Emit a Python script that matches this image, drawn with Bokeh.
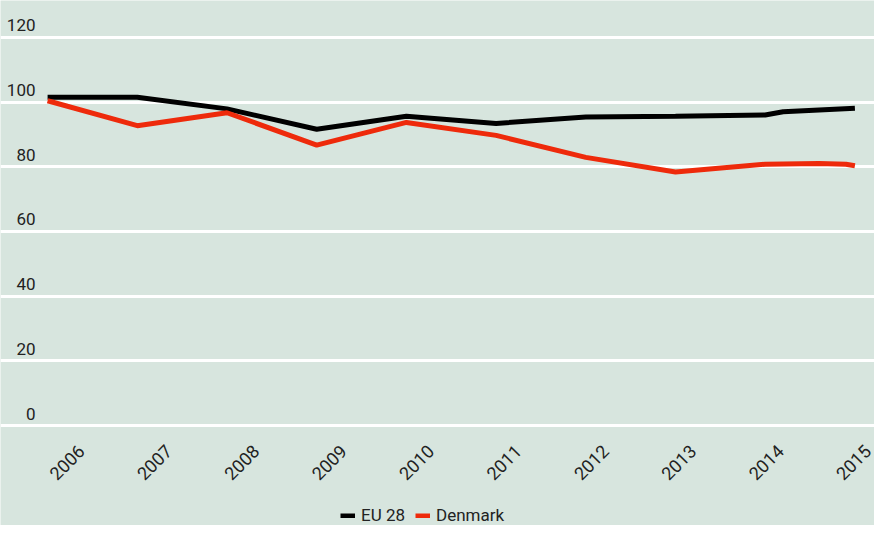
import math
from bokeh.plotting import figure
from bokeh.models import (Range1d, FixedTicker, LabelSet, ColumnDataSource,
                          Legend, LegendItem, Grid)
from bokeh.core.properties import value
from bokeh.embed import file_html
from bokeh.resources import INLINE

# ---- data ----
years = [2006, 2007, 2008, 2009, 2010, 2011, 2012, 2013, 2014, 2015]
year_labels = [str(y) for y in years]
eu_x = [2006, 2007, 2008, 2009, 2010, 2011, 2012, 2013, 2014, 2014.2, 2015]
eu28 = [101.5, 101.5, 97.9, 91.6, 95.6, 93.4, 95.4, 95.6, 96.0, 97.0, 98.1]
dk_x = [2006, 2007, 2008, 2009, 2010, 2011, 2012, 2013, 2014, 2014.6, 2014.9, 2015]
denmark = [100.4, 92.7, 96.7, 86.7, 93.7, 89.7, 82.9, 78.4, 80.8, 81.0, 80.8, 80.3]
y_ticks = [0, 20, 40, 60, 80, 100, 120]
y_tick_labels = ["0", "20", "40", "60", "80", "100", "120"]

BG = "#d7e5de"
FONT = "Roboto"
TXT = "#222222"
W, H = 874, 525

p = figure(width=W, height=H, output_backend="svg", toolbar_location=None,
           x_axis_type=None, y_axis_type=None,
           x_range=Range1d(2005.475, 2015.2185), y_range=Range1d(-30.9, 131.4),
           background_fill_color=BG, border_fill_color=BG,
           min_border_left=0, min_border_right=0, min_border_top=0, min_border_bottom=0)
p.outline_line_color = None

# horizontal gridlines
p.add_layout(Grid(dimension=1, ticker=FixedTicker(ticks=y_ticks),
                  grid_line_color="white", grid_line_width=3))

# y tick labels, inside the plot above each gridline
ysrc = ColumnDataSource(dict(y=y_ticks, t=y_tick_labels))
p.add_layout(LabelSet(x=35, y="y", text="t", source=ysrc, x_units="screen",
                      text_align="right", text_baseline="alphabetic", y_offset=6,
                      text_font=value(FONT), text_font_size="17px", text_color=TXT))

# x tick labels (rotated), on their own label scale
p.extra_x_ranges = {"lab": Range1d(2005.2386, 2015.24)}
xsrc = ColumnDataSource(dict(x=years, y=[-11.4] * len(years), t=year_labels))
p.add_layout(LabelSet(x="x", y="y", text="t", source=xsrc, x_range_name="lab",
                      angle=math.pi / 4, text_align="center", text_baseline="middle",
                      text_font=value(FONT), text_font_size="18px", text_color=TXT))

r_eu = p.line(eu_x, eu28, line_color="black", line_width=5)
r_dk = p.line(dk_x, denmark, line_color="#ee2a0b", line_width=5)

legend = Legend(items=[LegendItem(label="EU 28", renderers=[r_eu]),
                       LegendItem(label="Denmark", renderers=[r_dk])],
                orientation="horizontal", location=(340, 0),
                background_fill_color=BG, background_fill_alpha=0,
                border_line_color=None, label_text_font=FONT,
                label_text_font_size="17px", label_text_color=TXT,
                glyph_width=15, glyph_height=5, label_standoff=6, spacing=10,
                padding=2, margin=0)
p.add_layout(legend)

open("out.html", "w").write(file_html(p, INLINE))
